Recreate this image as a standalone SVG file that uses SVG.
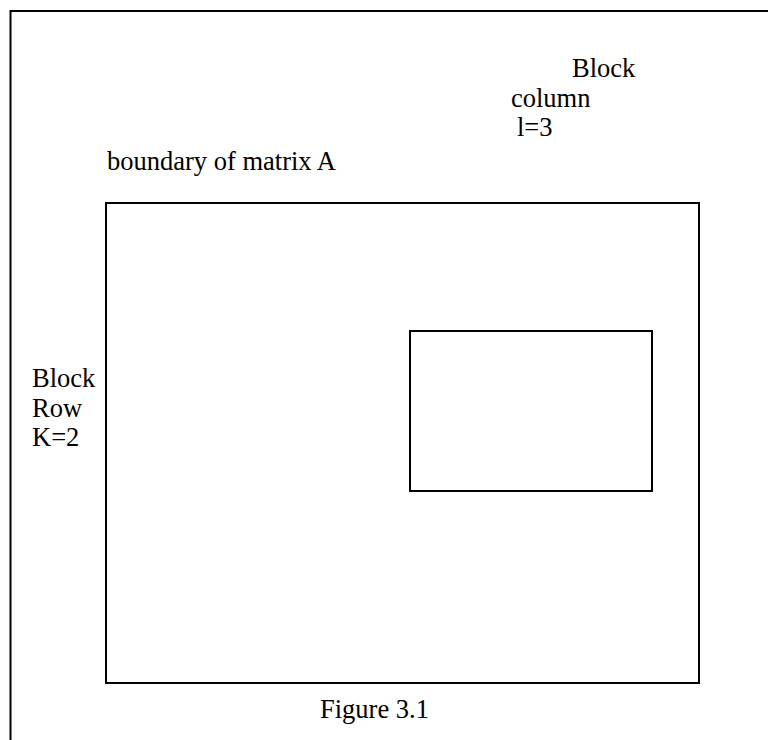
<svg xmlns="http://www.w3.org/2000/svg" width="768" height="740" viewBox="0 0 768 740">
<style>
.t{font-family:"Liberation Serif","Times New Roman",serif;font-size:26.5px;fill:#000}
.b{fill:none;stroke:#000;stroke-width:2}
</style>
<rect width="768" height="740" fill="#fff"/>
<g id="frame"><path class="b" d="M10.5,760 V11 H780"/></g>
<g id="matrixA"><rect class="b" x="106" y="203" width="593" height="480"/></g>
<g id="block"><rect class="b" x="410" y="331" width="242" height="160"/></g>
<g id="labels">
<text class="t" x="107" y="170">boundary of matrix A</text>
<text class="t" x="572" y="77">Block</text>
<text class="t" x="511" y="107">column</text>
<text class="t" x="517" y="136">l=3</text>
<text class="t" x="32" y="387">Block</text>
<text class="t" x="32" y="417">Row</text>
<text class="t" x="32" y="446">K=2</text>
<text class="t" x="320" y="718">Figure 3.1</text>
</g>
<g id="connectors"/>
</svg>
